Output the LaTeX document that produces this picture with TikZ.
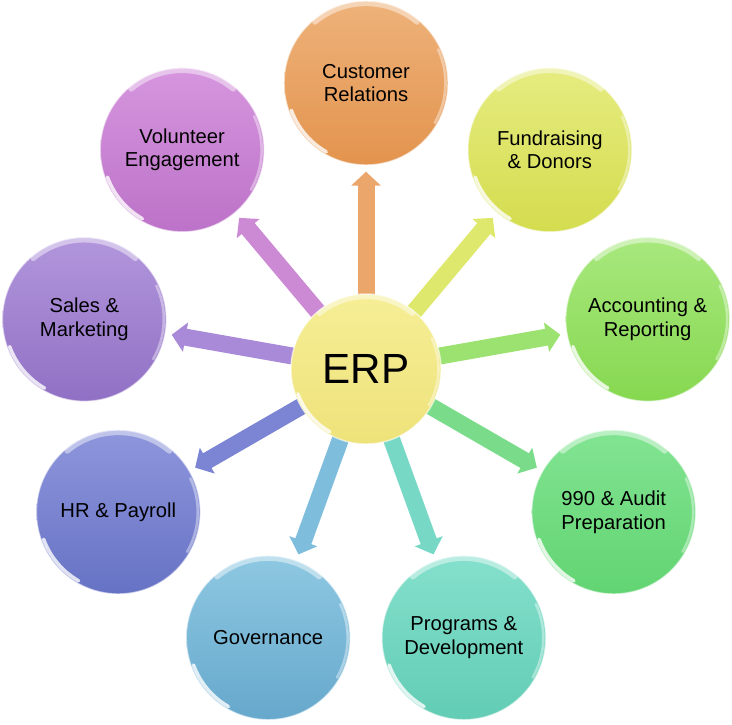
\documentclass[tikz,border=0pt]{standalone}
\usepackage{fontspec}
\setmainfont{Liberation Sans}
\usetikzlibrary{arrows.meta, backgrounds}

\definecolor{custTop}{HTML}{EEB27A}  \definecolor{custBot}{HTML}{E3944E}  \definecolor{custArr}{HTML}{EBA66C}
\definecolor{fundTop}{HTML}{E6EC80}  \definecolor{fundBot}{HTML}{D4DC4E}  \definecolor{fundArr}{HTML}{DEE86C}
\definecolor{acctTop}{HTML}{A8E87E}  \definecolor{acctBot}{HTML}{86D850}  \definecolor{acctArr}{HTML}{9CE270}
\definecolor{auditTop}{HTML}{82E492} \definecolor{auditBot}{HTML}{62D472} \definecolor{auditArr}{HTML}{7ADC8A}
\definecolor{progTop}{HTML}{84E0CC}  \definecolor{progBot}{HTML}{62CCB4}  \definecolor{progArr}{HTML}{78D8C6}
\definecolor{govTop}{HTML}{8EC8E2}   \definecolor{govBot}{HTML}{66A8CC}   \definecolor{govArr}{HTML}{7EBEDC}
\definecolor{hrTop}{HTML}{8E96DC}    \definecolor{hrBot}{HTML}{6672C4}    \definecolor{hrArr}{HTML}{7C84D4}
\definecolor{salesTop}{HTML}{B296DC} \definecolor{salesBot}{HTML}{9070C4} \definecolor{salesArr}{HTML}{A88AD8}
\definecolor{volTop}{HTML}{D696DE}   \definecolor{volBot}{HTML}{BC72C8}   \definecolor{volArr}{HTML}{CC8AD4}
\definecolor{erpTop}{HTML}{F6EE96}   \definecolor{erpBot}{HTML}{EEE27A}

\tikzset{
  gloss/.style={path picture={
    \draw [white, opacity=0.45, line width=3pt, line cap=round]
      ([shift={(50:#1)}]path picture bounding box.center) arc (50:130:#1);
    \draw [white, opacity=0.8, line width=2pt, line cap=round]
      ([shift={(200:#1)}]path picture bounding box.center) arc (200:240:#1);
    \draw [white, opacity=0.4, line width=1.5pt, line cap=round]
      ([shift={(-30:#1)}]path picture bounding box.center) arc (-30:25:#1);
  }},
  bubble/.style={circle, minimum size=3.28cm, inner sep=0pt, align=center,
    draw=white, draw opacity=0.6, line width=0.8pt,
    font=\fontsize{11.5}{13.5}\selectfont, gloss=1.59cm},
  hub/.style={circle, minimum size=3.0cm, inner sep=0pt,
    draw=white, draw opacity=0.6, line width=0.8pt,
    top color=erpTop, bottom color=erpBot,
    font=\fontsize{24}{28}\selectfont, gloss=1.45cm},
  spoke/.style={line width=0.34cm, -{Triangle[width=0.58cm, length=0.28cm]},
    shorten >=0.12cm, shorten <=-0.15cm}
}

\begin{document}
\begin{tikzpicture}
  \useasboundingbox (0cm, 0cm) rectangle (14.64cm, 14.48cm);

  \begin{scope}[shift={(7.32cm, 7.10cm)}]
    \node [hub] (erp) at (0cm, 0cm) {ERP};

    \node [bubble, top color=custTop, bottom color=custBot] (cust) at (90:5.72cm) {Customer\\Relations};
    \node [bubble, top color=fundTop, bottom color=fundBot] (fund) at (50:5.72cm) {Fundraising\\\& Donors};
    \node [bubble, top color=acctTop, bottom color=acctBot] (acct) at (10:5.72cm) {Accounting \&\\Reporting};
    \node [bubble, top color=auditTop, bottom color=auditBot] (audit) at (-30:5.72cm) {990 \& Audit\\Preparation};
    \node [bubble, top color=progTop, bottom color=progBot] (prog) at (-70:5.72cm) {Programs \&\\Development};
    \node [bubble, top color=govTop, bottom color=govBot] (gov) at (-110:5.72cm) {Governance};
    \node [bubble, top color=hrTop, bottom color=hrBot] (hr) at (-150:5.72cm) {HR \& Payroll};
    \node [bubble, top color=salesTop, bottom color=salesBot] (sales) at (170:5.72cm) {Sales \&\\Marketing};
    \node [bubble, top color=volTop, bottom color=volBot] (vol) at (130:5.72cm) {Volunteer\\Engagement};
  \end{scope}

  % spokes go under the hub
  \begin{pgfonlayer}{background}
    \draw [spoke, custArr] (erp) -- (cust);
    \draw [spoke, fundArr] (erp) -- (fund);
    \draw [spoke, acctArr] (erp) -- (acct);
    \draw [spoke, auditArr] (erp) -- (audit);
    \draw [spoke, progArr] (erp) -- (prog);
    \draw [spoke, govArr] (erp) -- (gov);
    \draw [spoke, hrArr] (erp) -- (hr);
    \draw [spoke, salesArr] (erp) -- (sales);
    \draw [spoke, volArr] (erp) -- (vol);
  \end{pgfonlayer}
\end{tikzpicture}
\end{document}
